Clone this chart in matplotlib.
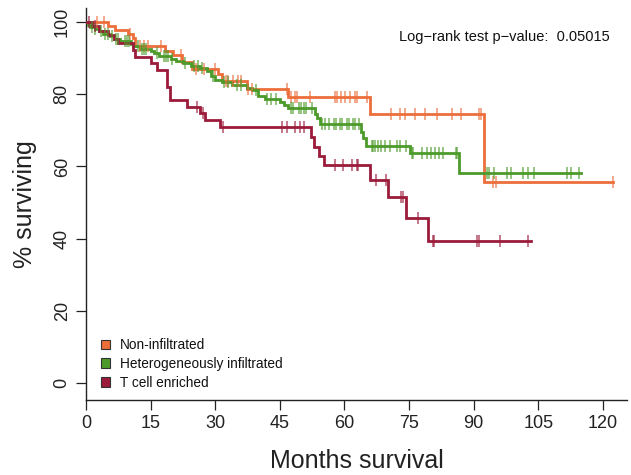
import numpy as np
import matplotlib
matplotlib.use("Agg")
import matplotlib.pyplot as plt
from matplotlib.patches import Patch

plt.rcParams['font.family'] = ['Liberation Sans', 'DejaVu Sans']

# ---- data ----
groups = ["Non-infiltrated", "Heterogeneously infiltrated", "T cell enriched"]
colors = ["#EC6E3A", "#4C9A2A", "#9B1B3A"]

orange_t = [0, 5.2, 6.7, 9.8, 11.0, 11.4, 18.3, 20.2, 22.3, 24.6, 30.6, 31.5, 37.3, 47.0, 65.9, 92.3]
orange_s = [100, 98.9, 97.8, 96.7, 95.6, 93.5, 92.0, 90.8, 89.0, 87.1, 85.5, 83.7, 81.5, 79.3, 74.4, 55.8]
orange_end = 122.4
orange_cens = [2.6, 4.2, 10.3, 12.5, 13.5, 14.4, 17.5, 22.0, 25.5, 27.5, 30.0, 32.5, 33.0, 34.2,
               35.4, 36.1, 37.7, 38.5, 46.6, 47.7, 48.5, 48.9, 52.0, 57.8, 58.2, 59.3, 60.1, 61.3,
               62.4, 63.0, 65.3, 70.7, 73.0, 74.0, 76.4, 78.7, 81.4, 85.0, 87.0, 91.3, 91.7, 94.4,
               95.2, 122.4]

green_t = [0, 0.5, 1.0, 2.0, 3.0, 4.0, 5.5, 6.5, 8.0, 10.5, 11.0, 12.5, 15.0, 15.8, 17.0, 19.7,
           21.0, 22.5, 24.3, 26.5, 28.0, 29.0, 30.0, 31.5, 34.0, 37.3, 38.5, 40.0, 41.5, 45.0,
           46.0, 46.8, 53.2, 53.6, 54.3, 63.8, 64.2, 65.0, 75.2, 86.7]
green_s = [100, 99.3, 98.7, 98.0, 97.4, 96.7, 96.0, 95.3, 94.7, 94.0, 93.3, 92.6, 92.0, 91.3,
           90.6, 89.9, 89.3, 88.6, 87.9, 87.2, 86.4, 85.0, 84.0, 83.3, 82.6, 81.8, 81.1, 79.6,
           78.8, 77.9, 77.0, 76.1, 74.5, 73.3, 71.8, 69.5, 67.8, 65.7, 63.6, 58.3]
green_end = 115.0
green_cens = [1.5, 2.2, 3.5, 4.5, 5.0, 6.0, 7.0, 7.5, 9.0, 9.5, 10.0, 12.0, 13.0, 13.5, 14.0,
              16.5, 18.0, 18.5, 19.0, 20.0, 23.0, 25.0, 26.0, 27.0, 29.5, 32.0, 33.0, 35.0,
              36.0, 39.5, 42.0, 43.0, 44.0, 47.5, 48.0, 49.5, 50.0, 50.5, 51.0, 52.5, 54.7,
              55.5, 56.4, 57.5, 58.0, 59.0, 59.5, 60.5, 61.0, 62.0, 62.5, 63.3, 66.3, 66.7,
              67.1, 67.8, 68.6, 69.4, 70.5, 72.1, 72.9, 74.4, 75.6, 76.0, 77.9, 79.1, 80.2,
              81.0, 81.9, 82.9, 85.9, 86.2, 93.0, 93.5, 94.7, 97.8, 98.7, 101.4, 102.7, 104.1,
              111.6, 112.7, 114.5]

red_t = [0, 1.5, 3.0, 5.0, 6.5, 7.5, 10.9, 11.4, 15.2, 16.4, 18.8, 19.4, 23.5, 26.5, 27.6,
         31.0, 52.2, 52.9, 54.2, 55.3, 65.9, 70.2, 74.3, 79.5]
red_s = [100, 98.8, 97.6, 96.5, 95.3, 94.1, 92.2, 90.4, 88.6, 86.7, 82.0, 78.3, 76.5, 74.7,
         72.8, 70.8, 68.2, 65.5, 62.9, 60.4, 56.2, 51.6, 45.8, 39.4]
red_end = 103.2
red_cens = [0.8, 2.0, 25.8, 27.2, 31.9, 45.4, 46.6, 48.5, 49.7, 50.6, 57.8, 59.7, 61.7, 62.8,
            63.2, 67.3, 69.6, 73.1, 73.7, 77.0, 80.5, 80.8, 90.8, 91.3, 96.1, 102.5]

x_ticks = [0, 15, 30, 45, 60, 75, 90, 105, 120]
y_ticks = [0, 20, 40, 60, 80, 100]
pvalue_text = "Log\u2212rank test p\u2212value:  0.05015"

# ---- figure ----
fig = plt.figure(figsize=(6.31, 4.75), dpi=100)
ax = fig.add_axes([86 / 631, 1 - 400 / 475, (627 - 86) / 631, (400 - 7.6) / 475])

series = [
    (orange_t, orange_s, orange_end, orange_cens),
    (green_t, green_s, green_end, green_cens),
    (red_t, red_s, red_end, red_cens),
]
for (t, s, end, cens), col in zip(series, colors):
    tt = np.array(list(t) + [end])
    ss = np.array(list(s) + [s[-1]])
    ax.step(tt, ss, where='post', color=col, lw=2.0, solid_joinstyle='miter', zorder=3)
    c = np.array(cens)
    idx = np.searchsorted(np.array(t), c, side='right') - 1
    cy = np.array(s)[idx]
    ax.plot(c, cy, linestyle='none', marker='|', markersize=8, markeredgewidth=1.1,
            color=col, alpha=0.75, zorder=4)

ax.set_xlim(0, 125.6)
ax.set_ylim(-4.7, 104)
ax.spines['top'].set_visible(False)
ax.spines['right'].set_visible(False)
for sp in ['left', 'bottom']:
    ax.spines[sp].set_linewidth(1.0)
    ax.spines[sp].set_color('#222222')

ax.set_xticks(x_ticks)
ax.set_yticks(y_ticks)
ax.tick_params(axis='both', direction='out', length=7, width=0.9, colors='#222222',
               labelsize=13, labelcolor='#222222', pad=4)
for lab in ax.get_yticklabels():
    lab.set_rotation(90)
    lab.set_va('center')

ax.set_xlabel("Months survival", fontsize=18, color='#222222', labelpad=12)
ax.set_ylabel("% surviving", fontsize=18, color='#222222', labelpad=12)

ax.text(0.969, 0.924, pvalue_text, transform=ax.transAxes, ha='right', va='center',
        fontsize=10.5, color='#111111')

handles = [Patch(facecolor=c, edgecolor='#333333', linewidth=0.8) for c in colors]
leg = ax.legend(handles, groups, loc='lower left', bbox_to_anchor=(0.01, 0.002),
                frameon=False, fontsize=9.8, handlelength=0.7, handleheight=0.7,
                handletextpad=0.7, labelspacing=0.35, borderaxespad=0.3)
for txt in leg.get_texts():
    txt.set_color('#111111')

fig.savefig("out.png", dpi=100)
